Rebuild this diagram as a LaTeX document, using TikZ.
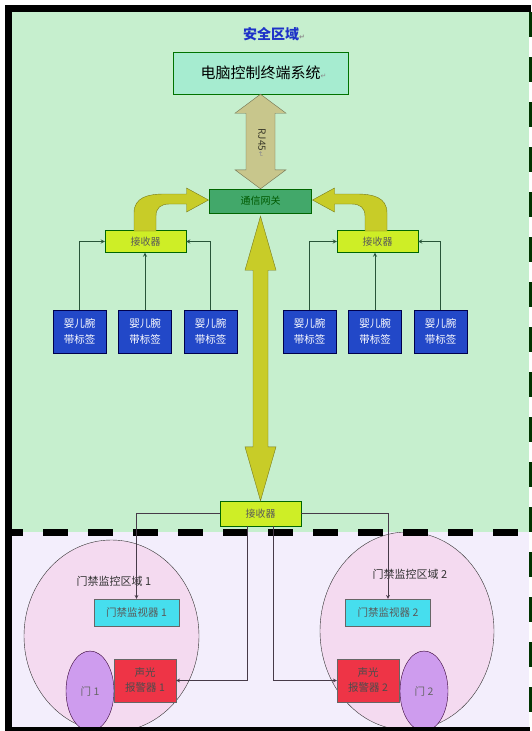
\documentclass[tikz,border=0pt]{standalone}
\usepackage{fontspec}
\setmainfont{Noto Sans CJK SC}
\newfontfamily\arrfont{DejaVu Sans}
\usetikzlibrary{shapes.geometric, arrows, calc}

\definecolor{safegreen}{RGB}{198,239,206}
\definecolor{ctrllilac}{RGB}{243,238,252}
\definecolor{termmint}{RGB}{166,236,208}
\definecolor{gwgreen}{RGB}{66,168,106}
\definecolor{recvlime}{RGB}{206,238,38}
\definecolor{tagblue}{RGB}{34,72,200}
\definecolor{rjtan}{RGB}{200,198,140}
\definecolor{arrowolive}{RGB}{200,204,40}
\definecolor{moncyan}{RGB}{70,222,238}
\definecolor{alarmred}{RGB}{238,52,70}
\definecolor{doorlilac}{RGB}{206,156,238}
\definecolor{zonepink}{RGB}{244,218,240}
\definecolor{titleblue}{RGB}{30,50,200}
\definecolor{linkgreen}{RGB}{40,84,56}
\definecolor{flowgray}{RGB}{70,58,72}

\newcommand\retmark{\rlap{\color{black!45}\arrfont\fontsize{7pt}{7pt}\selectfont ↵}}

\tikzstyle{termbox} = [rectangle, minimum width=175pt, minimum height=42pt, text centered, draw=black!55!green, fill=termmint, font=\fontsize{15pt}{17pt}\selectfont]
\tikzstyle{gatebox} = [rectangle, minimum width=102pt, minimum height=24pt, text centered, draw=black!60!green, fill=gwgreen, text=black!65!green, font=\fontsize{10pt}{12pt}\selectfont]
\tikzstyle{recvbox} = [rectangle, minimum width=81pt, minimum height=22pt, text centered, draw=black!60!green, fill=recvlime, text=black!65, font=\fontsize{10pt}{12pt}\selectfont]
\tikzstyle{tagbox} = [rectangle, minimum width=53pt, minimum height=43pt, align=center, draw=black!70!blue, fill=tagblue, text=white, font=\fontsize{10.5pt}{16.5pt}\selectfont]
\tikzstyle{monbox} = [rectangle, minimum width=85pt, minimum height=27pt, text centered, draw=black!60, fill=moncyan, text=black!65, font=\fontsize{10.5pt}{12pt}\selectfont]
\tikzstyle{alarmbox} = [rectangle, minimum width=62pt, minimum height=43pt, align=center, draw=black!60, fill=alarmred, text=black!70, font=\fontsize{10.5pt}{15pt}\selectfont]
\tikzstyle{doorshape} = [ellipse, minimum width=48pt, minimum height=80pt, inner sep=0pt, draw=black!60!violet, fill=doorlilac, text=black!60, font=\fontsize{10.5pt}{12pt}\selectfont]
\tikzstyle{zonearea} = [ellipse, minimum width=175pt, minimum height=192pt, inner sep=0pt, draw=black!80, fill=zonepink]
\tikzstyle{zonelabel} = [text=black!80, font=\fontsize{11pt}{13pt}\selectfont]
\tikzstyle{link} = [->, >=stealth, line width=0.8pt, draw=linkgreen]
\tikzstyle{flow} = [->, >=stealth, line width=0.7pt, draw=flowgray]
\tikzstyle{rjarrow} = [fill=rjtan, draw=black!45!rjtan]
\tikzstyle{bigarrow} = [fill=arrowolive, draw=black!40!arrowolive]

\begin{document}
\begin{tikzpicture}[x=1pt, y=-1pt, node distance=65.5pt]
\useasboundingbox (0,0) rectangle (532,731);

% the two areas
\fill[safegreen] (10,11) rectangle (529,532);
\fill[ctrllilac] (10,532) rectangle (529,727);

% access control zones
\begin{scope}
\clip (10,532) rectangle (529,727);
\node (zone1) [zonearea] at (111.5,636) {};
\node (zone2) [zonearea, minimum width=174pt, minimum height=198pt] at (407,631) {};
\node (door1) [doorshape] at (90,691) {门 1};
\node (door2) [doorshape] at (424,691) {门 2};
\end{scope}

\draw[line width=7pt, dash pattern=on 25pt off 20pt, dash phase=12pt] (10,532) -- (529,532);
\draw[line width=7pt] (8,731) -- (8,8) -- (531,8);
\draw[line width=4pt] (6,729) -- (530,729);
\draw[line width=3pt, draw=black!80!green, dash pattern=on 25pt off 20pt] (530,12) -- (530,727);

\node (title) [text=titleblue, font=\fontsize{14pt}{16pt}\selectfont] at (271,34) {\bfseries 安全区域\retmark};
\node (comp) [termbox] at (260.5,73) {电脑控制终端系统\retmark};
\node (gw) [gatebox] at (260.5,201) {通信网关};
\node (recvL) [recvbox] at (145.5,241.5) {接收器};
\node (recvR) [recvbox] at (377.5,241.5) {接收器};

\node (tag1) [tagbox] at (79.5,331.5) {婴儿腕\\带标签};
\node (tag2) [tagbox, right of=tag1] {婴儿腕\\带标签};
\node (tag3) [tagbox, right of=tag2] {婴儿腕\\带标签};
\node (tag4) [tagbox] at (309.5,331.5) {婴儿腕\\带标签};
\node (tag5) [tagbox, right of=tag4] {婴儿腕\\带标签};
\node (tag6) [tagbox, right of=tag5] {婴儿腕\\带标签};

\node (recvB) [recvbox, minimum height=25pt] at (260.5,513.5) {接收器};
\node (label1) [zonelabel] at (114,581) {门禁监控区域 1};
\node (label2) [zonelabel] at (410,574) {门禁监控区域 2};
\node (mon1) [monbox] at (136.5,612.5) {门禁监视器 1};
\node (mon2) [monbox] at (388,612.5) {门禁监视器 2};
\node (alarm1) [alarmbox] at (145,680.5) {声光\\报警器 1};
\node (alarm2) [alarmbox] at (368,680.5) {声光\\报警器 2};

% RJ45 link
\path (comp.south) coordinate (rjA) (gw.north) coordinate (rjB);
\draw[rjarrow] (rjA) -- ($(rjA)+(25.5,19)$) -- ($(rjA)+(14.5,19)$) -- ($(rjB)+(14.5,-19)$) -- ($(rjB)+(25.5,-19)$) -- (rjB)
  -- ($(rjB)+(-25.5,-19)$) -- ($(rjB)+(-14.5,-19)$) -- ($(rjA)+(-14.5,19)$) -- ($(rjA)+(-25.5,19)$) -- cycle;
\node (rjlabel) [rotate=-90, text=black!70!rjtan, font=\fontsize{10pt}{12pt}\selectfont] at (262,140) {RJ45\retmark};

% wireless link gateway - lower receiver
\path ([yshift=-3pt]gw.south) coordinate (bigA) (recvB.north) coordinate (bigB);
\draw[bigarrow] (bigA) -- ($(bigA)+(15.5,54)$) -- ($(bigA)+(7.5,54)$) -- ($(bigB)+(7.5,-54)$) -- ($(bigB)+(15.5,-54)$) -- (bigB)
  -- ($(bigB)+(-15.5,-54)$) -- ($(bigB)+(-7.5,-54)$) -- ($(bigA)+(-7.5,54)$) -- ($(bigA)+(-15.5,54)$) -- cycle;

% receivers up to gateway
\foreach \s in {1,-1}
{
\begin{scope}[shift={(gw.center)}, xscale=\s]
\draw[bigarrow] (-126.5,30) -- (-126.5,12) .. controls (-126.5,-4) and (-112,-7) .. (-96,-7) -- (-74,-7) -- (-74,-13) -- (-52,-1)
  -- (-74,11) -- (-74,3) -- (-91,3) .. controls (-100,3) and (-104.5,7) .. (-104.5,15) -- (-104.5,30) -- cycle;
\end{scope}
}

\draw[link] (tag1.north) |- (recvL.west);
\draw[link] (tag2.north) -- (tag2.north |- recvL.south);
\draw[link] (tag3.north) |- (recvL.east);
\draw[link] (tag4.north) |- (recvR.west);
\draw[link] (tag5.north) -- (tag5.north |- recvR.south);
\draw[link] (tag6.north) |- (recvR.east);

\draw[flow] (recvB.west) -| (mon1.north);
\draw[flow] (recvB.east) -| (mon2.north);
\draw[flow] ([xshift=-13.5pt]recvB.south) |- (alarm1.east);
\draw[flow] ([xshift=12.5pt]recvB.south) |- (alarm2.west);

\end{tikzpicture}
\end{document}
